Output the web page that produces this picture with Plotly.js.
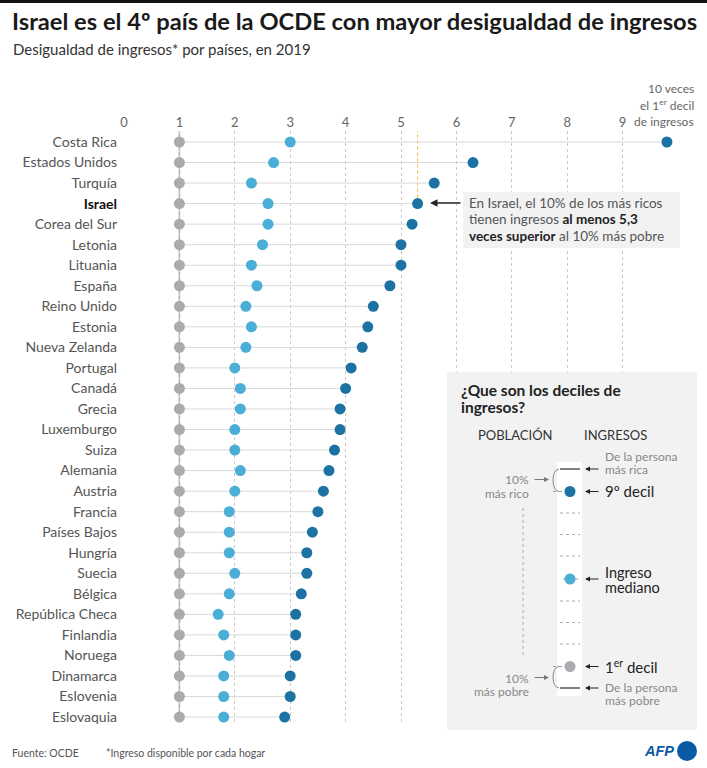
<!DOCTYPE html>
<html>
<head>
<meta charset="utf-8">
<script src="https://cdn.plot.ly/plotly-3.0.1.min.js"></script>
<style>html,body{margin:0;padding:0;background:#fff;}#chart{width:707px;height:768px;}</style>
</head>
<body>
<div id="chart"></div>
<script>
const countries = ["Costa Rica","Estados Unidos","Turquía","Israel","Corea del Sur","Letonia","Lituania","España","Reino Unido","Estonia","Nueva Zelanda","Portugal","Canadá","Grecia","Luxemburgo","Suiza","Alemania","Austria","Francia","Países Bajos","Hungría","Suecia","Bélgica","República Checa","Finlandia","Noruega","Dinamarca","Eslovenia","Eslovaquia"];
const decil1 = [1,1,1,1,1,1,1,1,1,1,1,1,1,1,1,1,1,1,1,1,1,1,1,1,1,1,1,1,1];
const mediana = [3.0,2.7,2.3,2.6,2.6,2.5,2.3,2.4,2.2,2.3,2.2,2.0,2.1,2.1,2.0,2.0,2.1,2.0,1.9,1.9,1.9,2.0,1.9,1.7,1.8,1.9,1.8,1.8,1.8];
const decil9 = [9.8,6.3,5.6,5.3,5.2,5.0,5.0,4.8,4.5,4.4,4.3,4.1,4.0,3.9,3.9,3.8,3.7,3.6,3.5,3.4,3.3,3.3,3.2,3.1,3.1,3.1,3.0,3.0,2.9];
const xTicks = [0,1,2,3,4,5,6,7,8,9,10];
const xTickText = ["0","1","2","3","4","5","6","7","8","9",""];

const FONT = "Lato, 'Source Sans Pro', sans-serif";
const GRAY = "#a9abae", LIGHT = "#4aaed6", DARK = "#1b72a3";
const L = 124, R = 678, T = 131, B = 723;
const PX = v => (v - L) / (R - L);
const PY = v => (B - v) / (B - T);

const idx = countries.map((c, i) => i);
const lx = [], ly = [];
idx.forEach(i => { lx.push(decil1[i], decil9[i], null); ly.push(i, i, null); });

const traces = [
  {x: lx, y: ly, mode: "lines", line: {color: "#d9d9d9", width: 1}, hoverinfo: "skip", showlegend: false},
  {x: decil1, y: idx, mode: "markers", marker: {color: GRAY, size: 11}, showlegend: false},
  {x: mediana, y: idx, mode: "markers", marker: {color: LIGHT, size: 11}, showlegend: false},
  {x: decil9, y: idx, mode: "markers", marker: {color: DARK, size: 11}, showlegend: false}
];

const tickText = countries.map(c => c === "Israel" ? '<b><span style="color:#111">Israel</span></b>' : c);

const shapes = [];
const ann = [];
function rectPx(x0, y0, x1, y1, fill) {
  shapes.push({type: "rect", xref: "paper", yref: "paper", x0: PX(x0), x1: PX(x1), y0: PY(y1), y1: PY(y0), fillcolor: fill, line: {width: 0}, layer: "above"});
}
function linePx(x0, y0, x1, y1, color, width, dash) {
  shapes.push({type: "line", xref: "paper", yref: "paper", x0: PX(x0), x1: PX(x1), y0: PY(y0), y1: PY(y1), line: {color: color, width: width, dash: dash || "solid"}, layer: "above"});
}
function circlePx(cx, cy, r, fill) {
  shapes.push({type: "circle", xref: "paper", yref: "paper", x0: PX(cx - r), x1: PX(cx + r), y0: PY(cy + r), y1: PY(cy - r), fillcolor: fill, line: {width: 0}, layer: "above"});
}
function textPx(x, y, text, size, color, xanchor, family) {
  ann.push({xref: "paper", yref: "paper", x: PX(x), y: PY(y), text: text, showarrow: false, xanchor: xanchor || "left", yanchor: "middle", font: {family: family || FONT, size: size, color: color}, align: xanchor === "right" ? "right" : "left", borderpad: 0});
}
function arrowPx(hx, hy, tx, ty, color, width) {
  ann.push({xref: "paper", yref: "paper", x: PX(hx), y: PY(hy), ax: tx - hx, ay: ty - hy, text: "", showarrow: true, arrowhead: 2, arrowsize: 1, arrowwidth: width || 1, arrowcolor: color});
}
function pathPx(pts, color) {
  let s = "";
  pts.forEach(p => {
    s += p[0];
    for (let k = 1; k < p.length; k += 2) s += " " + PX(p[k]).toFixed(5) + "," + PY(p[k + 1]).toFixed(5);
    s += " ";
  });
  shapes.push({type: "path", xref: "paper", yref: "paper", path: s.trim(), line: {color: color, width: 1}, layer: "above"});
}

// top black rule
rectPx(0, 0, 707, 3, "#111");

// vertical solid line at 1 and yellow line at 5.3
shapes.push({type: "line", xref: "x", yref: "y", x0: 1, x1: 1, y0: -0.65, y1: 28.25, line: {color: GRAY, width: 1.5}, layer: "below"});
shapes.push({type: "line", xref: "x", yref: "y", x0: 5.3, x1: 5.3, y0: -0.65, y1: 3, line: {color: "#f2b92b", width: 1, dash: "dot"}, layer: "below"});

// Israel annotation box
rectPx(463, 192, 680, 248, "#f2f2f2");
textPx(468, 203, "En Israel, el 10% de los más ricos", 13.5, "#555");
textPx(468, 219.5, 'tienen ingresos <b><span style="color:#222">al menos 5,3</span></b>', 13.5, "#555");
textPx(468, 236, '<b><span style="color:#222">veces superior</span></b> al 10% más pobre', 13.5, "#555");
arrowPx(430, 203, 462, 203, "#222", 1.5);

// Legend box
rectPx(447, 372, 697, 730, "#f2f2f2");
rectPx(557, 462, 582, 696, "#ffffff");
textPx(460, 390, "<b>¿Que son los deciles de</b>", 15.5, "#222");
textPx(460, 407, "<b>ingresos?</b>", 15.5, "#222");
textPx(477, 435, "POBLACIÓN", 13, "#333");
textPx(583, 435, "INGRESOS", 13, "#333");

linePx(560, 469, 580, 469, "#555", 1.5);
linePx(560, 688, 580, 688, "#555", 1.5);
[513, 534.5, 556, 601, 622.5, 644].forEach(y => linePx(560, y, 580, y, "#aaa", 1, "dot"));
linePx(553, 491.5, 565, 491.5, "#999", 1, "dot");
linePx(553, 666.5, 565, 666.5, "#999", 1, "dot");
linePx(563, 579, 578, 579, "#999", 1, "dot");
circlePx(570, 491.5, 5.5, DARK);
circlePx(570, 579, 5.5, LIGHT);
circlePx(570, 666.5, 5.5, GRAY);

textPx(604, 456, "De la persona", 12, "#888");
textPx(604, 469, "más rica", 12, "#888");
arrowPx(585, 469, 600, 469, "#222", 1);
textPx(604, 491, "9º decil", 15, "#222");
arrowPx(585, 491.5, 600, 491.5, "#222", 1);
textPx(604, 572, "Ingreso", 14.5, "#222");
textPx(604, 587, "mediano", 14.5, "#222");
arrowPx(585, 579, 600, 579, "#222", 1);
textPx(604, 666, "1<sup>er</sup> decil", 15, "#222");
arrowPx(585, 666.5, 600, 666.5, "#222", 1);
textPx(604, 687, "De la persona", 12, "#888");
textPx(604, 700, "más pobre", 12, "#888");
arrowPx(585, 688, 600, 688, "#222", 1);

textPx(530, 480, "10%", 12, "#888", "right");
textPx(530, 493, "más rico", 12, "#888", "right");
arrowPx(549, 479.5, 533, 479.5, "#777", 1);
textPx(530, 678, "10%", 12, "#888", "right");
textPx(530, 691, "más pobre", 12, "#888", "right");
arrowPx(549, 677.5, 533, 677.5, "#777", 1);
pathPx([["M", 559, 469], ["C", 551, 469, 551, 491.5, 559, 491.5]], "#888");
pathPx([["M", 559, 666.5], ["C", 551, 666.5, 551, 688, 559, 688]], "#888");
linePx(523, 508, 523, 658, "#aaa", 1, "dot");

// axis end label
textPx(695, 89, "10 veces", 12, "#666", "right");
textPx(695, 105, "el 1<sup>er</sup> decil", 12, "#666", "right");
textPx(695, 121, "de ingresos", 12, "#666", "right");

// subtitle & footer
textPx(12, 49, "Desigualdad de ingresos* por países, en 2019", 15, "#333");
textPx(11, 753, "Fuente: OCDE", 10.5, "#555");
textPx(105, 753, "*Ingreso disponible por cada hogar", 10.5, "#555");
textPx(643, 751, "<b><i>AFP</i></b>", 14.5, "#0b5aa5", "left", "'Liberation Sans', Arial, sans-serif");
circlePx(687, 751, 10, "#0b5aa5");

const layout = {
  width: 707, height: 768,
  margin: {l: L, r: 707 - R, t: T, b: 768 - B, pad: 0},
  paper_bgcolor: "#fff", plot_bgcolor: "#fff",
  font: {family: FONT},
  title: {text: "<b>Israel es el 4º país de la OCDE con mayor desigualdad de ingresos</b>", x: 12 / 707, xref: "container", xanchor: "left", y: 1 - 22 / 768, yref: "container", yanchor: "middle", font: {family: FONT, size: 23.7, color: "#1a1a1a"}},
  xaxis: {range: [0, 10], side: "top", tickvals: xTicks, ticktext: xTickText, showgrid: true, gridcolor: "#c9c9c9", griddash: "dot", gridwidth: 1, zeroline: false, showline: false, ticks: "", tickfont: {size: 13, color: "#666", family: FONT}, fixedrange: true},
  yaxis: {range: [28.29, -0.535], tickvals: idx, ticktext: tickText, showgrid: false, zeroline: false, showline: false, ticks: "", ticklabelstandoff: 6, tickfont: {size: 14, color: "#555", family: FONT}, fixedrange: true},
  shapes: shapes,
  annotations: ann,
  hovermode: false
};

Plotly.newPlot("chart", traces, layout, {displayModeBar: false, staticPlot: true});
</script>
</body>
</html>
